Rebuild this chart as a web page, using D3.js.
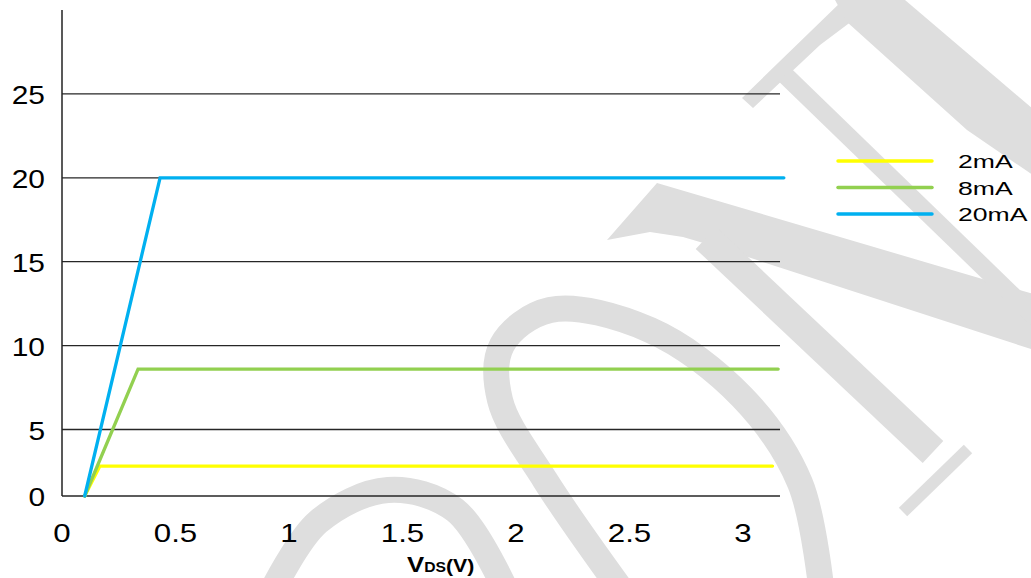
<!DOCTYPE html>
<html>
<head>
<meta charset="utf-8">
<script src="https://cdn.jsdelivr.net/npm/d3@7"></script>
<style>
  body { margin: 0; background: #fff; }
  svg { display: block; font-family: 'Liberation Sans', Arial, sans-serif; }
</style>
</head>
<body>
<script>
// series (VDS in volts, ID in mA)
const seriesNames = ['2mA', '8mA', '20mA']
const seriesColors = ['#ffff00', '#92d050', '#00b0f0']
const vds_2mA = [0.10, 0.167, 3.13]
const id_2mA = [0, 2.25, 2.25]
const vds_8mA = [0.10, 0.335, 3.155]
const id_8mA = [0, 8.6, 8.6]
const vds_20mA = [0.10, 0.432, 3.18]
const id_20mA = [0, 20, 20]

const xTicks = [0, 0.5, 1, 1.5, 2, 2.5, 3]
const yTicks = [0, 5, 10, 15, 20, 25]

const width = 1031
const height = 578

const svg = d3.select('body').append('svg')
  .attr('width', width)
  .attr('height', height)

// background watermark (decoration only)
const wm = svg.append('g').attr('class', 'watermark')
const curve = d3.line().curve(d3.curveCatmullRom)
wm.append('path')
  .attr('d', curve([[625, 595], [545, 480], [500, 400], [502, 345], [550, 310], [650, 330], [742, 397], [800, 483], [822, 595]]))
  .attr('fill', 'none').attr('stroke', '#dedede').attr('stroke-width', 26)
wm.append('path')
  .attr('d', curve([[270, 595], [318, 522], [388, 490], [455, 510], [508, 595]]))
  .attr('fill', 'none').attr('stroke', '#dedede').attr('stroke-width', 26)
const polys = [
  [[657, 183], [1040, 296], [1040, 352], [717, 247], [683, 237], [650, 232], [607, 240]],
  [[742, 98], [753, 108], [820, 45], [880, 0], [843, 0]],
  [[835, 0], [905, 0], [1040, 115], [1040, 180], [967, 130], [847, 22]]
]
wm.selectAll('polygon').data(polys).enter().append('polygon')
  .attr('points', d => d.join(' '))
  .attr('fill', '#dedede')
const bars = [
  [[706, 238], [933, 452], 30],
  [[903, 512], [968, 449], 12],
  [[785, 75], [1040, 322], 18]
]
wm.selectAll('line').data(bars).enter().append('line')
  .attr('x1', d => d[0][0]).attr('y1', d => d[0][1])
  .attr('x2', d => d[1][0]).attr('y2', d => d[1][1])
  .attr('stroke', '#dedede').attr('stroke-width', d => d[2])

// scales
const xScale = d3.scaleLinear()
  .domain([0, 3.163])
  .range([62, 780])

// the picture's 0..5 band is shorter than the others
const yScale = d3.scaleLinear()
  .domain([0, 5, 30])
  .range([496, 429.5, 10])

// gridlines
svg.append('g').selectAll('line')
  .data(yTicks)
  .enter()
  .append('line')
  .attr('x1', xScale(0))
  .attr('x2', xScale.range()[1])
  .attr('y1', d => yScale(d))
  .attr('y2', d => yScale(d))
  .attr('stroke', '#262626')
  .attr('stroke-width', 1.3)

// y axis line
svg.append('line')
  .attr('x1', xScale(0)).attr('x2', xScale(0))
  .attr('y1', yScale(0)).attr('y2', yScale(30))
  .attr('stroke', '#222')
  .attr('stroke-width', 1.5)

// y tick labels
svg.append('g').selectAll('text')
  .data(yTicks)
  .enter()
  .append('text')
  .attr('transform', d => `translate(45, ${yScale(d) + 10}) scale(1.15, 1)`)
  .attr('text-anchor', 'end')
  .attr('font-size', 26)
  .attr('fill', '#000')
  .text(d => d)

// x tick labels
svg.append('g').selectAll('text')
  .data(xTicks)
  .enter()
  .append('text')
  .attr('transform', d => `translate(${xScale(d)}, 542) scale(1.25, 1)`)
  .attr('text-anchor', 'middle')
  .attr('font-size', 25)
  .attr('fill', '#000')
  .text(d => d)

// axis title
const title = svg.append('text')
  .attr('transform', 'translate(407, 572) scale(1.12, 1)')
  .attr('font-weight', 'bold')
  .attr('fill', '#000')
title.append('tspan').attr('font-size', 23).text('V')
title.append('tspan').attr('font-size', 14).text('DS')
title.append('tspan').attr('font-size', 19).text('(V)')

// curves
const series = [
  {name: seriesNames[0], color: seriesColors[0], vds: vds_2mA, id: id_2mA},
  {name: seriesNames[1], color: seriesColors[1], vds: vds_8mA, id: id_8mA},
  {name: seriesNames[2], color: seriesColors[2], vds: vds_20mA, id: id_20mA}
]

const line = d3.line()
  .x(d => xScale(d[0]))
  .y(d => yScale(d[1]))

svg.append('g').selectAll('path')
  .data(series)
  .enter()
  .append('path')
  .attr('d', s => line(d3.zip(s.vds, s.id)))
  .attr('fill', 'none')
  .attr('stroke', s => s.color)
  .attr('stroke-width', 3.3)
  .attr('stroke-linecap', 'round')

// legend
const legend = svg.append('g').selectAll('g')
  .data(series)
  .enter()
  .append('g')
  .attr('transform', (s, i) => `translate(838, ${161 + i * 26.5})`)

legend.append('line')
  .attr('x1', 0).attr('x2', 94)
  .attr('stroke', s => s.color)
  .attr('stroke-width', 3.5)
  .attr('stroke-linecap', 'round')

legend.append('text')
  .attr('transform', 'translate(120, 7) scale(1.4, 1)')
  .attr('font-size', 19)
  .attr('fill', '#000')
  .text(s => s.name)
</script>
</body>
</html>
